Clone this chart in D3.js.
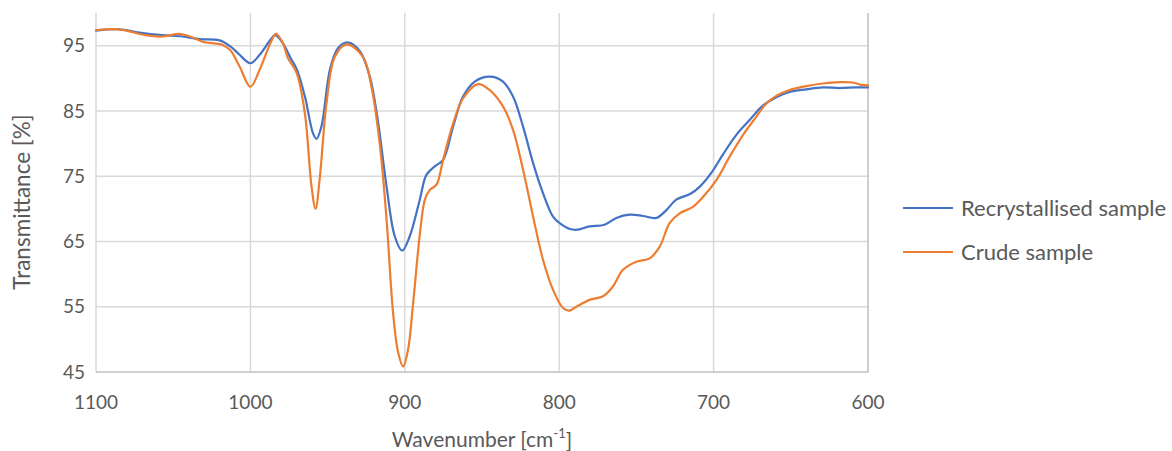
<!DOCTYPE html>
<html>
<head>
<meta charset="utf-8">
<script src="https://cdn.jsdelivr.net/npm/d3@7"></script>
<style>
  html, body { margin: 0; padding: 0; background: #fff; }
  svg { display: block; }
  text { font-family: Lato, "Open Sans", sans-serif; fill: #595959; }
</style>
</head>
<body>
<svg id="chart" width="1172" height="451"></svg>
<script>
// ---- data ----
const xTicks = [1100, 1000, 900, 800, 700, 600];
const yTicks = [45, 55, 65, 75, 85, 95];

const seriesNames = ["Recrystallised sample", "Crude sample"];

const recrystWn = [1100, 1085, 1072, 1057, 1044, 1033, 1020, 1013, 1007, 1000, 994, 987, 984, 979, 974, 970,
  964.7, 959.5, 957.2, 954, 948.5, 943.3, 937, 929, 922.7, 917.5, 911.8, 906.5, 901.7, 896.8, 890.3, 886,
  880.6, 875.2, 868.7, 862.3, 854.7, 845, 836.4, 829.9, 823.4, 816.9, 810.5, 804, 799.7, 793, 788, 780.3,
  770.6, 763, 754.4, 745.8, 737.1, 730.6, 724.2, 715, 708.9, 701.5, 694, 685.4, 676.7, 668.1, 659.4, 650.8,
  640, 629.3, 618.4, 607.6, 600];
const recrystT = [97.3, 97.5, 97.0, 96.6, 96.4, 96.0, 95.8, 94.9, 93.6, 92.3, 93.6, 95.9, 96.6, 95.4, 93.1, 91.4,
  87.2, 81.6, 80.7, 82.6, 91.3, 94.6, 95.5, 94.1, 90.3, 83.6, 73.4, 65.8, 63.6, 65.8, 71.4, 75.2,
  76.5, 77.5, 82.6, 87.2, 89.5, 90.25, 89.5, 87.2, 82.6, 77.0, 72.4, 68.8, 67.8, 66.9, 66.8, 67.3,
  67.55, 68.6, 69.1, 68.9, 68.6, 69.8, 71.4, 72.3, 73.4, 75.5, 78.3, 81.3, 83.6, 85.8, 87.1, 87.9,
  88.3, 88.6, 88.5, 88.6, 88.6];

const crudeWn = [1100, 1085, 1068, 1057, 1046, 1039, 1031, 1018, 1013, 1007, 1000, 994, 987, 983.5, 979, 975.7,
  970, 964.7, 960.4, 957.8, 955, 950.7, 945.3, 937.7, 927.2, 921.6, 916, 911.8, 907.6, 904.3, 901.1, 897.9,
  894.6, 890.3, 887, 883.8, 879.5, 875.2, 868.7, 862.3, 852.6, 845, 836.4, 829.9, 823.4, 816.9, 810.5, 804,
  797.5, 793.5, 788.9, 780.3, 771.6, 765.2, 758.7, 750, 741.4, 734.9, 728.5, 722, 713.4, 706.9, 698.2, 689.6,
  681, 672.4, 666, 659.4, 650.8, 640, 629.3, 618.4, 610, 604.4, 600];
const crudeT = [97.4, 97.5, 96.6, 96.4, 96.8, 96.4, 95.6, 95.1, 94.3, 91.8, 88.7, 91.3, 95.4, 96.8, 95.4, 93.1,
  90.8, 84.6, 73.4, 70.0, 74.9, 86.2, 93.3, 95.2, 93.3, 88.7, 79.5, 68.3, 54.1, 48.0, 45.85, 48.4,
  55.55, 66.0, 71.4, 72.9, 73.7, 77.5, 83.1, 86.9, 89.1, 88.2, 85.7, 82.1, 76.0, 68.8, 62.2, 57.6,
  54.8, 54.4, 55.0, 56.05, 56.6, 58.1, 60.65, 61.9, 62.4, 64.2, 67.8, 69.3, 70.3, 71.8, 74.4, 78.0,
  81.3, 84.1, 86.1, 87.3, 88.2, 88.8, 89.2, 89.4, 89.35, 89.0, 88.9];

const colors = ["#4472C4", "#ED7D31"];

// ---- layout ----
const svg = d3.select("#chart");
const pL = 96, pR = 868, pT = 13, pB = 372;
const x = d3.scaleLinear().domain([1100, 600]).range([pL, pR]);
const y = d3.scaleLinear().domain([45, 100]).range([pB, pT]);

// grid
const g = svg.append("g");
g.selectAll("line.hg").data(yTicks.filter(d => d > 45)).join("line")
  .attr("x1", pL).attr("x2", pR)
  .attr("y1", d => y(d)).attr("y2", d => y(d))
  .attr("stroke", "#d9d9d9").attr("stroke-width", 1.5);
g.selectAll("line.vg").data(xTicks).join("line")
  .attr("x1", d => x(d)).attr("x2", d => x(d))
  .attr("y1", pT).attr("y2", pB)
  .attr("stroke", d => d === 600 ? "#bfbfbf" : "#d9d9d9").attr("stroke-width", 1.5);
// bottom axis line
g.append("line").attr("x1", pL).attr("x2", pR + 0.75)
  .attr("y1", pB).attr("y2", pB)
  .attr("stroke", "#bfbfbf").attr("stroke-width", 1.5);

// tick labels
svg.append("g").selectAll("text").data(yTicks).join("text")
  .attr("x", 85).attr("y", d => y(d)).attr("dy", "0.35em")
  .attr("text-anchor", "end").attr("font-size", 19)
  .text(d => d);
svg.append("g").selectAll("text").data(xTicks).join("text")
  .attr("x", d => x(d)).attr("y", 402).attr("dy", "0.35em")
  .attr("text-anchor", "middle").attr("font-size", 19)
  .text(d => d);

// axis titles
const xt = svg.append("text").attr("x", (pL + pR) / 2).attr("y", 440).attr("dy", "0.35em")
  .attr("text-anchor", "middle").attr("font-size", 21);
xt.append("tspan").text("Wavenumber [cm");
xt.append("tspan").attr("font-size", 13).attr("dy", "-0.7em").text("-1");
xt.append("tspan").attr("dy", "0.45em").text("]");

svg.append("text").attr("transform", "translate(22,202) rotate(-90)").attr("dy", "0.35em")
  .attr("text-anchor", "middle").attr("font-size", 22.5).text("Transmittance [%]");

// lines
const line = d3.line().x(d => x(d[0])).y(d => y(d[1])).curve(d3.curveCatmullRom.alpha(0.5));
const series = [d3.zip(recrystWn, recrystT), d3.zip(crudeWn, crudeT)];
svg.append("g").selectAll("path").data(series).join("path")
  .attr("d", line).attr("fill", "none")
  .attr("stroke", (d, i) => colors[i]).attr("stroke-width", 2.2)
  .attr("stroke-linejoin", "round").attr("stroke-linecap", "round");

// legend
const lg = svg.append("g");
const ly = [208, 252];
seriesNames.forEach((n, i) => {
  lg.append("line").attr("x1", 903).attr("x2", 953).attr("y1", ly[i]).attr("y2", ly[i])
    .attr("stroke", colors[i]).attr("stroke-width", 2.2);
  lg.append("text").attr("x", 961).attr("y", ly[i]).attr("dy", "0.35em")
    .attr("font-size", 22).text(n);
});
</script>
</body>
</html>
